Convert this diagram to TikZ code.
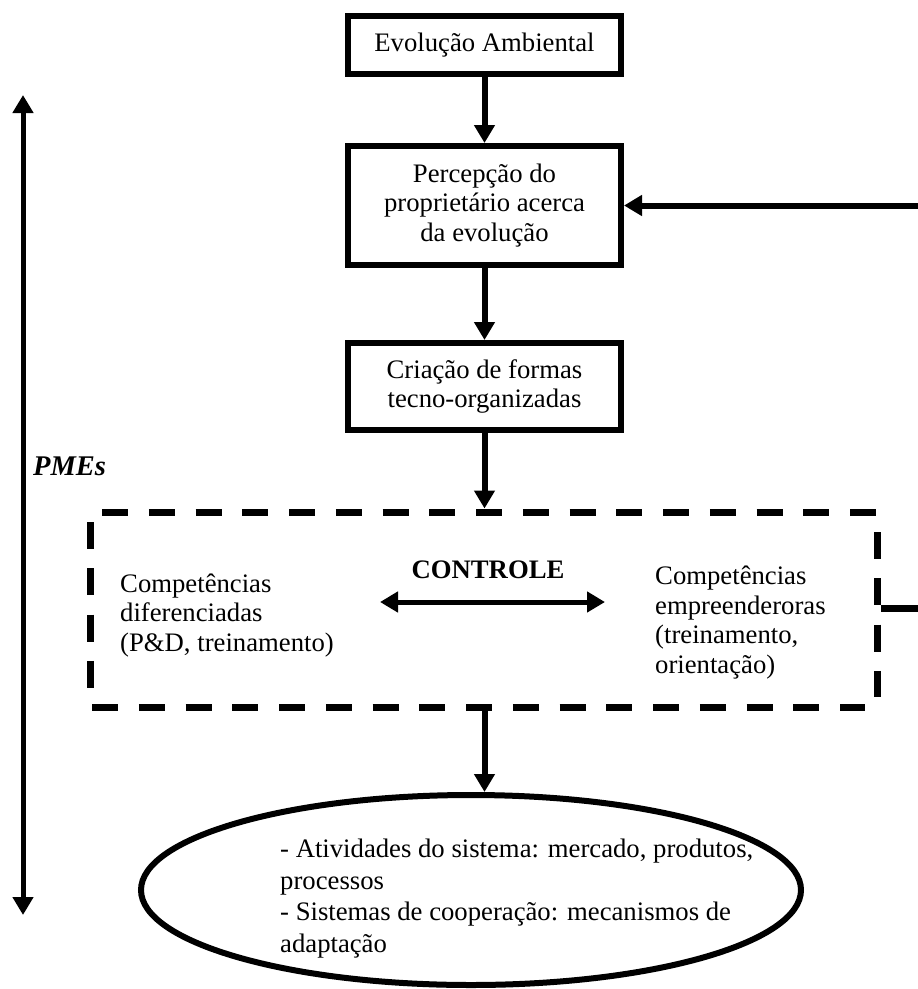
\documentclass[tikz,border=0pt]{standalone}
\usepackage{fontspec}
\setmainfont{Liberation Serif}
\usetikzlibrary{arrows.meta,shapes.geometric}
\begin{document}
\begin{tikzpicture}[x=1pt,y=-1pt,
  box/.style={draw,line width=6pt,minimum width=273pt,inner sep=0pt,align=center,font=\fontsize{26.7}{29.5}\selectfont},
  arr/.style={line width=6pt,-{Triangle[width=20pt,length=18pt]}},
  dbl/.style={line width=5pt,{Triangle[width=20pt,length=18pt]}-{Triangle[width=20pt,length=18pt]}},
  txt/.style={inner sep=0pt,align=left,font=\fontsize{26.7}{29.5}\selectfont},
  hdsh/.style={line width=7pt,dash pattern=on 26pt off 20.75pt},
  vdsh/.style={line width=7pt,dash pattern=on 27pt off 19.3pt}]
\fill[white] (0,0) rectangle (918,989);
\useasboundingbox (0,0) rectangle (918,989);
% boxes
\node[box,minimum height=58pt] (n1) at (484.5,45) {Evolução Ambiental};
\node[box,minimum height=119pt] (n2) at (484.5,205.5) {Percepção do\\proprietário acerca\\da evolução};
\node[box,minimum height=87pt] (n3) at (484.5,386.5) {Criação de formas\\tecno-organizadas};
% dashed control box
\node[draw=none,minimum width=787pt,minimum height=195pt,inner sep=0pt,outer sep=3.5pt] (ctrl) at (483.5,609.5) {};
\draw[hdsh] (102,512) -- (876,512);
\draw[hdsh] (92,707) -- (865,707);
\draw[vdsh] (90,522) -- (90,688);
\draw[vdsh] (877,532) -- (877,697);
\node[inner sep=0pt,anchor=base,font=\fontsize{26.7}{29}\selectfont\bfseries] (ctl) at (488,578) {CONTROLE};
\node[txt,anchor=base west] (left) at (120,651) {Competências\\diferenciadas\\(P\&D, treinamento)};
\node[txt,anchor=base west] (right) at (655,673) {Competências\\empreenderoras\\(treinamento,\\orientação)};
\coordinate (da1) at (380,602);
\coordinate (da2) at (605,602);
\draw[dbl] (da1) -- (da2);
% ellipse
\node[draw,ellipse,line width=6pt,minimum width=660pt,minimum height=190pt,inner sep=0pt] (ell) at (471,890) {};
\node[txt,anchor=base west,font=\fontsize{26.7}{31.5}\selectfont] (et) at (280,952) {- Atividades do sistema: mercado, produtos,\\processos\\- Sistemas de cooperação: mecanismos de\\adaptação};
% PMEs
\node[inner sep=0pt,anchor=base west,font=\fontsize{28.5}{30}\selectfont\bfseries\itshape] (pmes) at (33,475) {PMEs};
\coordinate (lt) at (23,95);
\coordinate (lb) at (23,915);
\draw[dbl] (lt) -- (lb);
% connectors
\draw[arr] (n1) -- (n2);
\draw[arr] (n2) -- (n3);
\draw[arr] (n3) -- (ctrl.north -| n3);
\draw[arr] (ctrl.south -| n3) -- (ell.north -| n3);
\coordinate (fbT) at (918,205.5);
\coordinate (fbB) at (918,608);
\draw[arr] (fbT) -- (n2.east);
\draw[line width=7pt] (ctrl.east |- fbB) -- (fbB);
\end{tikzpicture}
\end{document}
